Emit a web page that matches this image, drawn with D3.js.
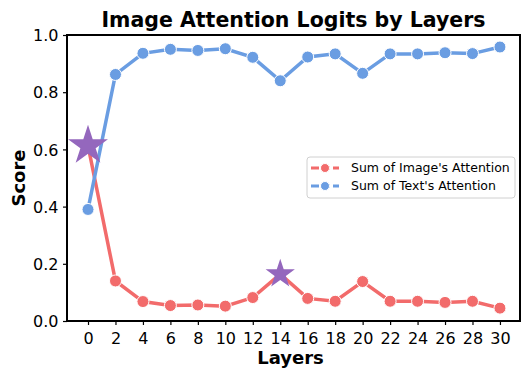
<!DOCTYPE html>
<html>
<head>
<meta charset="utf-8">
<script src="https://cdn.jsdelivr.net/npm/d3@7"></script>
<style>
  body { margin: 0; background: #fff; }
  text { font-family: "DejaVu Sans", sans-serif; }
</style>
</head>
<body>
<svg width="532" height="380"></svg>
<script>
// layers on the x axis
var layers = [0, 2, 4, 6, 8, 10, 12, 14, 16, 18, 20, 22, 24, 26, 28, 30];
var imageAttn = [0.613, 0.140, 0.068, 0.054, 0.056, 0.052, 0.082, 0.164, 0.079, 0.069, 0.138, 0.069, 0.069, 0.065, 0.069, 0.045];
var textAttn = [0.390, 0.862, 0.936, 0.950, 0.946, 0.952, 0.922, 0.840, 0.923, 0.934, 0.866, 0.934, 0.934, 0.938, 0.935, 0.958];
var yTicks = [0, 0.2, 0.4, 0.6, 0.8, 1.0];
// highlighted points (layer, value, star size)
var stars = [[0, 0.613, 15], [14, 0.164, 11]];
var seriesNames = ["Sum of Image's Attention", "Sum of Text's Attention"];

var red = "#f26b6b", blue = "#6a9de2", purple = "#9467bd";

var svg = d3.select("svg");
var mL = 67, mR = 520, mT = 35, mB = 321;

var x = d3.scaleLinear().domain([-1.53, 31.46]).range([mL, mR]);
var y = d3.scaleLinear().domain([0, 1]).range([mB, mT]);

// axes
svg.append("g")
  .attr("transform", "translate(0," + mB + ")")
  .call(d3.axisBottom(x).tickValues(layers).tickSize(4).tickSizeOuter(0))
  .call(g => g.select(".domain").remove())
  .selectAll("text").attr("font-size", 16).attr("dy", "1.0em").attr("fill", "#000");

svg.append("g")
  .attr("transform", "translate(" + mL + ",0)")
  .call(d3.axisLeft(y).tickValues(yTicks).tickFormat(d3.format(".1f")).tickSize(4).tickSizeOuter(0))
  .call(g => g.select(".domain").remove())
  .selectAll("text").attr("font-size", 16).attr("dy", "0.36em").attr("dx", "-0.1em").attr("fill", "#000");

svg.selectAll(".tick line").attr("stroke", "#000").attr("stroke-width", 1.2);

var line = d3.line().x((d, i) => x(layers[i])).y(d => y(d));

function drawSeries(vals, col) {
  svg.append("path").datum(vals)
    .attr("d", line).attr("fill", "none")
    .attr("stroke", col).attr("stroke-width", 3.5);
  svg.append("g").selectAll("circle").data(vals).join("circle")
    .attr("cx", (d, i) => x(layers[i])).attr("cy", d => y(d))
    .attr("r", 6).attr("fill", col)
    .attr("stroke", "#fff").attr("stroke-width", 1);
}
drawSeries(imageAttn, red);
drawSeries(textAttn, blue);

// stars
var star = d3.symbol().type(d3.symbolStar);
svg.append("g").selectAll("path").data(stars).join("path")
  .attr("d", d => star.size(d[2] * d[2] * 2.2)())
  .attr("transform", d => "translate(" + x(d[0]) + "," + y(d[1]) + ")")
  .attr("fill", purple);

// frame
svg.append("rect")
  .attr("x", mL).attr("y", mT)
  .attr("width", mR - mL).attr("height", mB - mT)
  .attr("fill", "none").attr("stroke", "#000").attr("stroke-width", 2);

// legend
var lg = svg.append("g").attr("transform", "translate(307,157)");
lg.append("rect").attr("width", 208).attr("height", 41).attr("rx", 3)
  .attr("fill", "#fff").attr("fill-opacity", 0.8)
  .attr("stroke", "#d0d0d0").attr("stroke-width", 1);
[red, blue].forEach(function(c, i) {
  var yy = 11 + i * 18;
  lg.append("line").attr("x1", 4).attr("x2", 32).attr("y1", yy).attr("y2", yy)
    .attr("stroke", c).attr("stroke-width", 3).attr("stroke-dasharray", "8,3");
  lg.append("circle").attr("cx", 18).attr("cy", yy).attr("r", 4.5)
    .attr("fill", c).attr("stroke", "#fff").attr("stroke-width", 1);
  lg.append("text").attr("x", 44).attr("y", yy).attr("dy", "0.35em")
    .attr("font-size", 12.5).text(seriesNames[i]);
});

// titles
svg.append("text").attr("x", (mL + mR) / 2).attr("y", 27)
  .attr("text-anchor", "middle").attr("font-size", 20.5).attr("font-weight", "bold")
  .text("Image Attention Logits by Layers");
svg.append("text").attr("x", (mL + mR) / 2 - 3).attr("y", 364)
  .attr("text-anchor", "middle").attr("font-size", 18).attr("font-weight", "bold")
  .text("Layers");
svg.append("text").attr("transform", "translate(25," + (mT + mB) / 2 + ") rotate(-90)")
  .attr("text-anchor", "middle").attr("font-size", 18).attr("font-weight", "bold")
  .text("Score");
</script>
</body>
</html>
